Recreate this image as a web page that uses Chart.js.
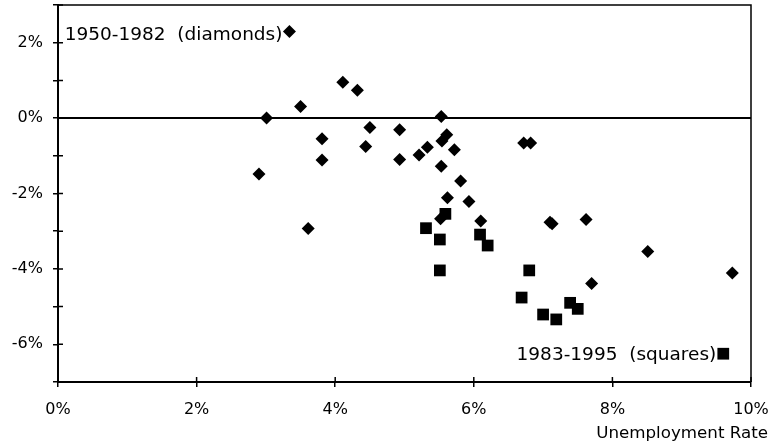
<!DOCTYPE html>
<html>
<head>
<meta charset="utf-8">
<script src="https://cdn.jsdelivr.net/npm/chart.js@4.4.1/dist/chart.umd.min.js"></script>
<style>
html,body{margin:0;padding:0;background:#fff;}
#wrap{width:774px;height:444px;position:relative;}
</style>
</head>
<body>
<div id="wrap"><canvas id="c" width="774" height="444"></canvas></div>
<script>
// Unemployment rate (%) and value (%)
const unemp1950 = [3.34, 3.01, 3.50, 4.11, 4.32, 3.81, 3.81, 2.90, 4.50, 4.44, 4.93, 4.93, 5.21, 5.33, 5.61, 5.54, 5.53, 5.72, 5.53, 5.81, 5.62, 5.93, 5.52, 6.10, 6.72, 6.82, 7.13, 7.10, 7.62, 8.51, 9.73, 7.70, 3.61];
const value1950 = [2.30, 0.00, 0.31, 0.95, 0.74, -0.55, -1.11, -1.48, -0.25, -0.75, -0.31, -1.10, -0.98, -0.77, -0.44, -0.61, 0.04, -0.84, -1.28, -1.67, -2.11, -2.21, -2.67, -2.73, -0.66, -0.66, -2.80, -2.76, -2.69, -3.54, -4.11, -4.39, -2.93];
const unemp1983 = [9.60, 5.59, 5.31, 5.51, 6.09, 6.20, 5.51, 6.80, 6.69, 7.00, 7.19, 7.39, 7.50];
const value1983 = [-6.25, -2.54, -2.92, -3.22, -3.09, -3.38, -4.04, -4.04, -4.76, -5.21, -5.34, -4.90, -5.06];
const xTickValues = [0, 2, 4, 6, 8, 10];
const yLabelValues = [-6, -4, -2, 0, 2];
const seriesLabels = ['1950-1982  (diamonds)', '1983-1995  (squares)'];
const xAxisTitle = 'Unemployment Rate';

const pts = (xs, ys) => xs.map((x, i) => ({x: x, y: ys[i]}));
const FONT = '"DejaVu Sans", Verdana, sans-serif';
const PLOT_TOP = 5;

const overlay = {
  id: 'overlay',
  afterLayout(chart) {
    try {
      const a = chart.chartArea, ys = chart.scales.y;
      if (a.top > PLOT_TOP) {
        a.top = PLOT_TOP;
        a.height = a.bottom - a.top;
        ys.top = PLOT_TOP;
        ys.height = ys.bottom - ys.top;
        ys.configure();
      }
    } catch (e) {}
  },
  afterDraw(chart) {
    const ctx = chart.ctx, a = chart.chartArea;
    const xs = chart.scales.x, ys = chart.scales.y;
    ctx.save();
    ctx.strokeStyle = '#000';
    // top and right frame
    ctx.lineWidth = 1.5;
    ctx.beginPath();
    ctx.moveTo(a.left, a.top); ctx.lineTo(a.right, a.top); ctx.lineTo(a.right, a.bottom);
    ctx.stroke();
    // zero line
    const y0 = ys.getPixelForValue(0);
    ctx.lineWidth = 2;
    ctx.beginPath(); ctx.moveTo(a.left, y0); ctx.lineTo(a.right, y0); ctx.stroke();
    // inward tick marks
    ctx.lineWidth = 1.5;
    ctx.beginPath();
    ys.ticks.forEach(t => {
      const p = ys.getPixelForValue(t.value);
      ctx.moveTo(a.left, p); ctx.lineTo(a.left + 5, p);
    });
    xs.ticks.forEach(t => {
      const p = xs.getPixelForValue(t.value);
      ctx.moveTo(p, a.bottom); ctx.lineTo(p, a.bottom - 5);
    });
    ctx.stroke();
    // series labels next to their first points
    ctx.fillStyle = '#000';
    ctx.font = '18.5px ' + FONT;
    ctx.textAlign = 'right';
    ctx.textBaseline = 'alphabetic';
    let px = xs.getPixelForValue(unemp1950[0]), py = ys.getPixelForValue(value1950[0]);
    ctx.fillText(seriesLabels[0], px - 7, py + 9);
    px = xs.getPixelForValue(unemp1983[0]); py = ys.getPixelForValue(value1983[0]);
    ctx.fillText(seriesLabels[1], px - 7, py + 6);
    // axis title
    ctx.font = '16.7px ' + FONT;
    ctx.fillText(xAxisTitle, 768, 438);
    ctx.restore();
  }
};

const NO_PAD = () => ({left: 0, top: 0, right: 0, bottom: 0});
function zeroPad(s) {
  s.paddingTop = 0; s.paddingBottom = 0; s.paddingLeft = 0; s.paddingRight = 0;
  s.getPadding = NO_PAD;
}

new Chart(document.getElementById('c'), {
  type: 'scatter',
  data: {
    datasets: [
      {
        label: seriesLabels[0],
        data: pts(unemp1950, value1950),
        pointStyle: 'rectRot',
        pointRadius: 6.5,
        backgroundColor: '#000',
        borderColor: '#000',
        borderWidth: 0
      },
      {
        label: seriesLabels[1],
        data: pts(unemp1983, value1983),
        pointStyle: 'rect',
        pointRadius: 8.3,
        backgroundColor: '#000',
        borderColor: '#000',
        borderWidth: 0
      }
    ]
  },
  options: {
    responsive: false,
    animation: false,
    events: [],
    layout: {padding: {top: 5, right: 23, left: 0, bottom: 0}},
    plugins: {legend: false, title: false, tooltip: {enabled: false}},
    scales: {
      x: {
        type: 'linear',
        min: 0, max: 10,
        afterFit(s) { s.height = 62; zeroPad(s); },
        afterBuildTicks(s) { s.ticks = xTickValues.map(v => ({value: v})); },
        ticks: {
          color: '#000',
          font: {family: FONT, size: 16},
          padding: 13,
          maxRotation: 0,
          callback: v => v + '%'
        },
        grid: {display: true, drawOnChartArea: false, tickLength: 5, color: '#000', lineWidth: 1.5},
        border: {display: true, color: '#000', width: 2}
      },
      y: {
        type: 'linear',
        min: -7, max: 3,
        afterFit(s) { s.width = 58; zeroPad(s); },
        ticks: {
          stepSize: 1,
          color: '#000',
          font: {family: FONT, size: 16},
          padding: 10,
          callback: v => yLabelValues.includes(v) ? v + '%' : ''
        },
        grid: {display: true, drawOnChartArea: false, tickLength: 5, color: '#000', lineWidth: 1.5},
        border: {display: true, color: '#000', width: 2}
      }
    }
  },
  plugins: [overlay]
});
</script>
</body>
</html>
